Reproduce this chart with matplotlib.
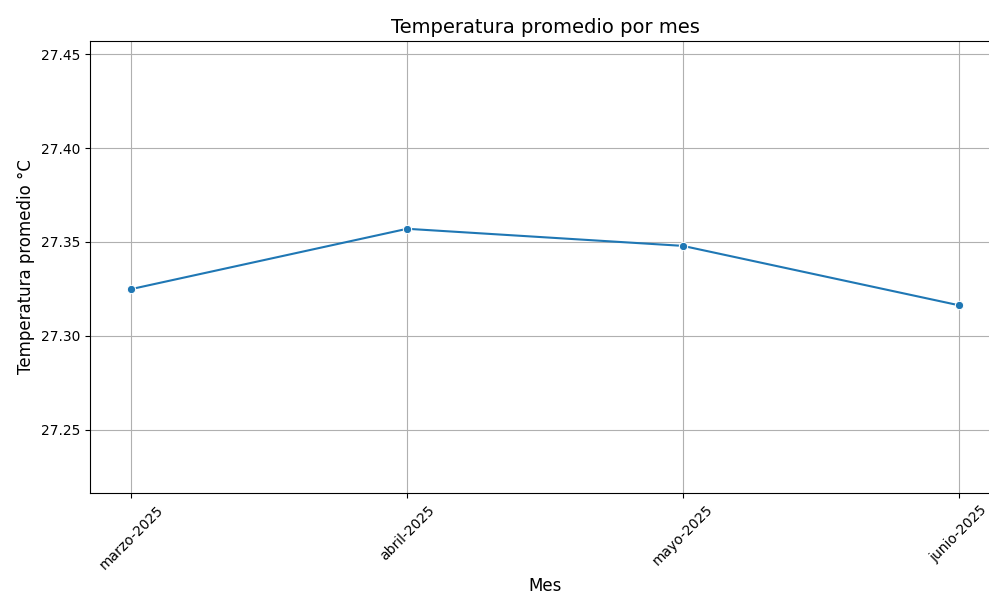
import matplotlib
matplotlib.use('Agg')
import matplotlib.pyplot as plt

meses = ['marzo-2025', 'abril-2025', 'mayo-2025', 'junio-2025']
temp_promedio = [27.3249, 27.3570, 27.3479, 27.3163]

fig = plt.figure(figsize=(9.89, 5.93), dpi=100)
ax = fig.add_axes([90 / 989, 1 - 493 / 593, 910 / 989, 452 / 593])

x = list(range(len(meses)))
ax.plot(x, temp_promedio, marker='o', color='#1f77b4', linewidth=1.5,
        markersize=6, markeredgecolor='white', markeredgewidth=0.75)
ax.set_xticks(x)
ax.set_xticklabels(meses, rotation=45)
ax.set_xlim(-0.15, 3.15)
ax.set_ylim(min(temp_promedio) - 0.1, max(temp_promedio) + 0.1)
ax.set_title('Temperatura promedio por mes', fontsize=14)
ax.set_xlabel('Mes', fontsize=12)
ax.set_ylabel('Temperatura promedio °C', fontsize=12)
ax.grid(True)

fig.savefig('out.png', dpi=100)
